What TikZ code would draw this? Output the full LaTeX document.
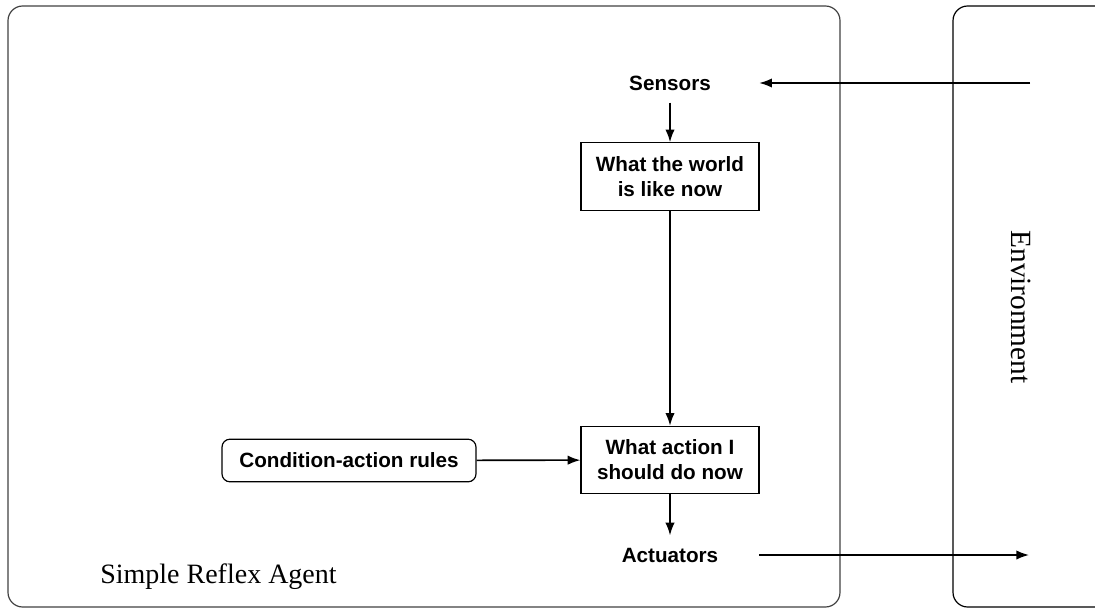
\documentclass[tikz,border=0pt]{standalone}
\usepackage{fontspec}
\setmainfont{Liberation Serif}
\setsansfont{Liberation Sans}
\usetikzlibrary{arrows.meta}
\begin{document}
\begin{tikzpicture}[x=0.75pt,y=-0.75pt,
  lbl/.style={font=\sffamily\bfseries\fontsize{15.5}{18.75}\selectfont, align=center},
  stagebox/.style={lbl, draw, line width=0.9pt, minimum width=133.5pt, minimum height=50.5pt, inner sep=0pt},
  port/.style={lbl, minimum width=133.5pt, minimum height=29pt, inner sep=0pt},
  rulebox/.style={lbl, draw, line width=0.9pt, rounded corners=6pt, minimum width=190.5pt, minimum height=32pt, inner sep=0pt},
  flow/.style={line width=1.2pt, -{Latex[length=9.5pt,width=7pt]}},
  frame/.style={line width=0.9pt, rounded corners=11pt}]
\useasboundingbox (0,0) rectangle (1095,610);

% agent and environment frames
\draw[frame, draw=black!75] (8,6) rectangle (840,607);
\draw[frame] (1110,6) -- (953,6) -- (953,607) -- (1110,607);

% components
\node[port] (sensors) at (670,83) {Sensors};
\node[stagebox] (world) at (670,176.5) {What the world\\is like now};
\node[stagebox] (action) at (670,460) {What action I\\should do now};
\node[port] (actuators) at (670,555) {Actuators};
\node[rulebox] (rules) at (349,460.5) {Condition-action rules};

\coordinate (percept) at (1030,83);
\coordinate (effect) at (1029,555);

% connectors
\draw[flow] (percept) -- (sensors.east);
\draw[flow] (sensors) -- (world);
\draw[flow] (world) -- (action);
\draw[flow] (rules) -- (action);
\draw[flow] (action) -- (actuators);
\draw[flow] (actuators.east) -- (effect);

% frame titles
\node[anchor=base west, inner sep=0pt, font=\fontsize{21}{25}\selectfont] (agentname) at (100,583) {Simple Reflex Agent};
\node[rotate=-90, inner sep=0pt, font=\fontsize{22}{26}\selectfont] (envname) at (1021,307) {Environment};
\end{tikzpicture}
\end{document}
